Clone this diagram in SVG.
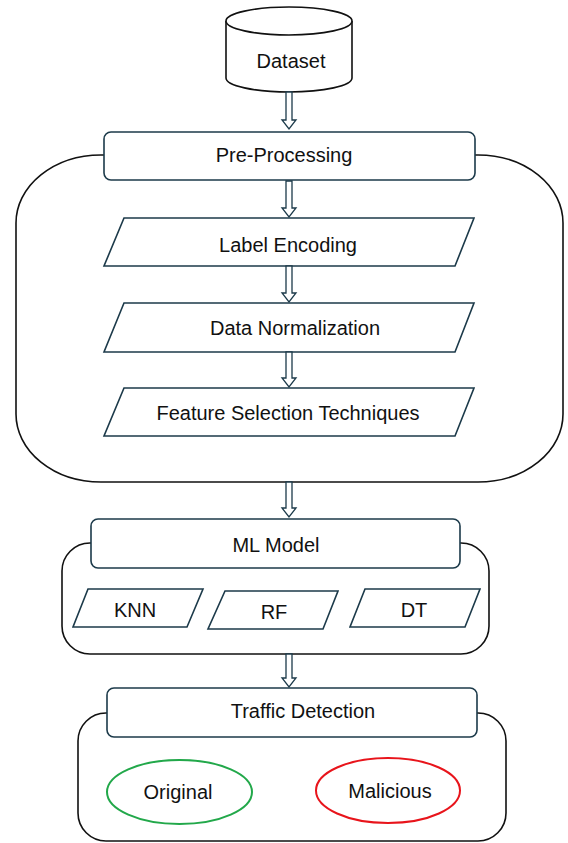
<svg xmlns="http://www.w3.org/2000/svg" width="568" height="843" viewBox="0 0 568 843">
<style>
.bg{fill:#fff}
.cont{fill:#fff;stroke:#111;stroke-width:1.6}
.box{fill:#fff;stroke:#1c3a4a;stroke-width:1.6}
.arr{fill:#fff;stroke:#1c3a4a;stroke-width:1.3;stroke-linejoin:miter}
.t{font-family:"Liberation Sans",Arial,sans-serif;font-size:20px;fill:#111;text-anchor:middle}
</style>
<rect class="bg" x="0" y="0" width="568" height="843"/>
<g id="preprocessing-container"><rect class="cont" x="16" y="155" width="547" height="327" rx="85" ry="68"/></g>
<g id="ml-container"><rect class="cont" x="62" y="543" width="427" height="111" rx="28" ry="28"/></g>
<g id="detection-container"><rect class="cont" x="78" y="713" width="428" height="128" rx="28" ry="28"/></g>
<g id="dataset">
<path class="cont" d="M226,21 V78 A63,14 0 0 0 352,78 V21"/>
<ellipse class="cont" cx="289" cy="21" rx="63" ry="14"/>
<text class="t" x="291" y="68">Dataset</text>
</g>
<g id="preprocessing"><rect class="box" x="104" y="132" width="371" height="48" rx="7"/><text class="t" x="284" y="162">Pre-Processing</text></g>
<g id="label-encoding"><polygon class="box" points="124,218 474,218 455,266 104,266"/><text class="t" x="288" y="252">Label Encoding</text></g>
<g id="data-normalization"><polygon class="box" points="124,303 474,303 455,352 104,352"/><text class="t" x="295" y="335">Data Normalization</text></g>
<g id="feature-selection"><polygon class="box" points="124,388 474,388 455,436 104,436"/><text class="t" x="288" y="420">Feature Selection Techniques</text></g>
<g id="ml-model"><rect class="box" x="91" y="519" width="369" height="49" rx="7"/><text class="t" x="276" y="552">ML Model</text></g>
<g id="knn"><polygon class="box" points="88,589 203,589 187,627 73,627"/><text class="t" x="135" y="617">KNN</text></g>
<g id="rf"><polygon class="box" points="225,591 338,591 323,629 208,629"/><text class="t" x="274" y="619">RF</text></g>
<g id="dt"><polygon class="box" points="365,589 480,589 465,627 350,627"/><text class="t" x="414" y="617">DT</text></g>
<g id="traffic-detection"><rect class="box" x="107" y="688" width="370" height="49" rx="7"/><text class="t" x="303" y="718">Traffic Detection</text></g>
<g id="original"><ellipse cx="179.5" cy="792" rx="72.5" ry="32" fill="#fff" stroke="#22a84a" stroke-width="2"/><text class="t" x="178" y="799">Original</text></g>
<g id="malicious"><ellipse cx="388" cy="790.5" rx="72" ry="32.5" fill="#fff" stroke="#e8141b" stroke-width="2"/><text class="t" x="390" y="798">Malicious</text></g>
<g id="connectors">
<path class="arr" d="M286,92 H292 V120 H296 L289,129 L282,120 H286 Z"/>
<path class="arr" d="M286,181 H292 V208 H296 L289,217 L282,208 H286 Z"/>
<path class="arr" d="M286,266 H292 V293 H296 L289,302 L282,293 H286 Z"/>
<path class="arr" d="M286,352 H292 V378 H296 L289,387 L282,378 H286 Z"/>
<path class="arr" d="M286,482 H292 V508 H296 L289,517 L282,508 H286 Z"/>
<path class="arr" d="M286,654 H292 V678 H296 L289,687 L282,678 H286 Z"/>
</g>
</svg>
